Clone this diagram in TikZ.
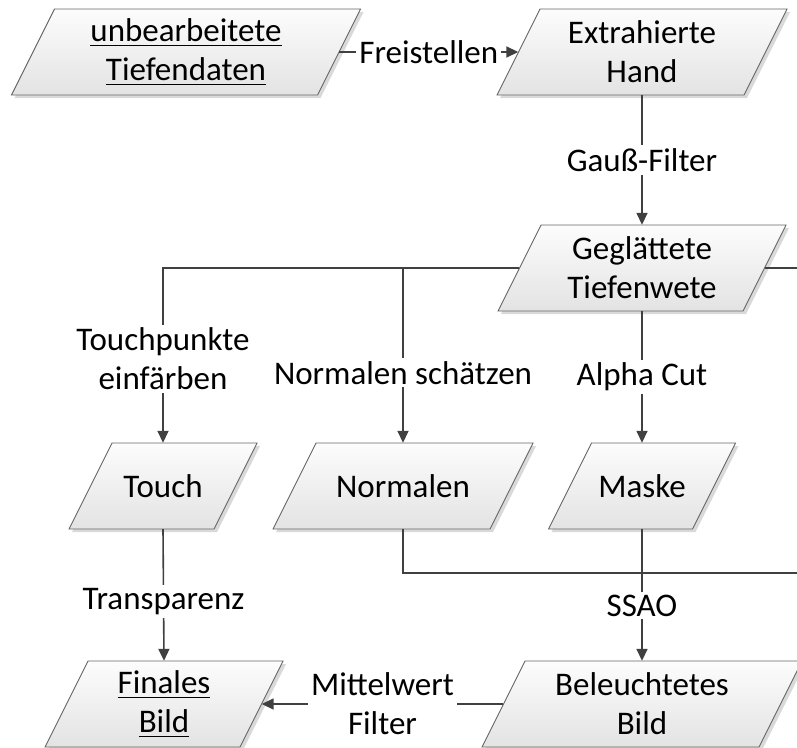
\documentclass[tikz,border=0pt]{standalone}
\usepackage{fontspec}
\setmainfont{Carlito}
\usetikzlibrary{arrows.meta}

% underlined box text
\newcommand{\ustrich}[1]{\setbox0\hbox{#1}\rlap{\rule[-5pt]{\wd0}{1.8pt}}\box0}
% parallelogram with shadow: name, x, y, width, text
\newcommand{\parabox}[5]{%
\fill[black!15] (#2-#4/2+24.5,#3-40) -- (#2+#4/2+24.5,#3-40) -- (#2+#4/2-18.5,#3+46) -- (#2-#4/2-18.5,#3+46) -- cycle;
\draw[box] (#2-#4/2+21.5,#3-43) -- (#2+#4/2+21.5,#3-43) -- (#2+#4/2-21.5,#3+43) -- (#2-#4/2-21.5,#3+43) -- cycle;
\node[boxtext, minimum width=#4pt] (#1) at (#2,#3) {#5};
}

\begin{document}
\begin{tikzpicture}[x=1pt, y=-1pt,
  font=\fontsize{33}{39}\selectfont,
  box/.style={draw=black!60, line width=0.9pt, top color=black!1, bottom color=black!11},
  boxtext/.style={anchor=center, minimum height=86pt, inner sep=0pt, align=center},
  line/.style={draw=black!75, line width=1.6pt},
  conn/.style={line, -{Triangle[length=12pt,width=11pt]}},
  lbl/.style={fill=white, inner sep=3pt, align=center}]
\useasboundingbox (0,0) rectangle (797,747);
\clip (0,0) rectangle (797,747);

\parabox{rohdaten}{186}{52}{306}{\ustrich{unbearbeitete}\\\ustrich{Tiefendaten}}
\parabox{hand}{642}{52}{247}{Extrahierte\\Hand}
\parabox{glatt}{642}{268}{245}{Geglättete\\Tiefenwete}
\parabox{touch}{163}{486}{145}{Touch}
\parabox{normalen}{403}{486}{217}{Normalen}
\parabox{maske}{642}{486}{144}{Maske}
\parabox{final}{164}{704}{195}{\ustrich{Finales}\\\ustrich{Bild}}
\parabox{licht}{642}{704}{277}{Beleuchtetes\\Bild}

\coordinate (rand1) at (800,268);
\coordinate (rand2) at (800,573);

\draw[conn] (rohdaten.east) -- (hand.west) node[lbl, midway] {Freistellen};
\draw[conn] (hand.south) -- (glatt.north) node[lbl, midway] {Gauß-Filter};
\draw[conn] (glatt.west) -| (touch.north) node[lbl, pos=0.76] {Touchpunkte\\einfärben};
\draw[conn] (glatt.west -| normalen.north) -- (normalen.north) node[lbl, pos=0.6] {Normalen schätzen};
\draw[conn] (glatt.south) -- (maske.north) node[lbl, midway] {Alpha Cut};
\draw[line] (glatt.east) -- (rand1);
\draw[conn] (touch.south) -- (final.north) node[lbl, pos=0.55] {Transparenz};
\draw[line] (normalen.south) |- (rand2);
\draw[conn] (maske.south) -- (licht.north) node[lbl, pos=0.58] {SSAO};
\draw[conn] (licht.west) -- (final.east) node[lbl, midway] {Mittelwert\\Filter};
\end{tikzpicture}
\end{document}
